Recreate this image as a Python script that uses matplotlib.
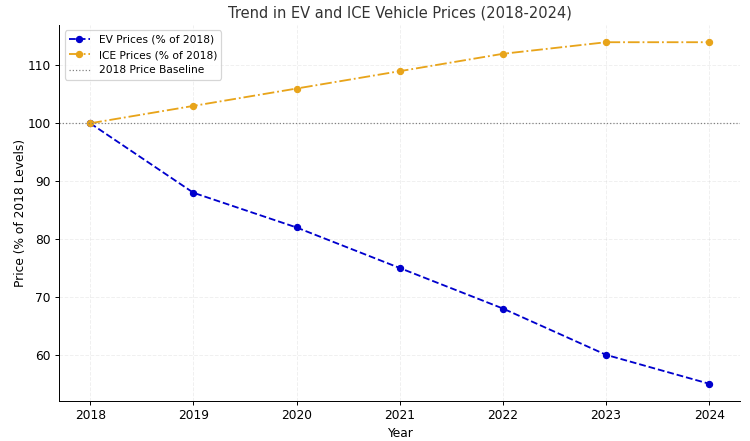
import matplotlib.pyplot as plt

years = [2018, 2019, 2020, 2021, 2022, 2023, 2024]
ev_prices = [100, 88, 82, 75, 68, 60, 55]
ice_prices = [100, 103, 106, 109, 112, 114, 114]
baseline = 100

fig, ax = plt.subplots(figsize=(750 / 88, 441 / 88), dpi=88)

ax.plot(years, ev_prices, marker='o', linestyle='--', color='mediumblue',
        markersize=5, label='EV Prices (% of 2018)')
ax.plot(years, ice_prices, marker='o', linestyle='-.', color='#e8a41a',
        markersize=5, label='ICE Prices (% of 2018)')
ax.axhline(baseline, color='gray', linestyle=':', linewidth=1, label='2018 Price Baseline')

ax.set_title('Trend in EV and ICE Vehicle Prices (2018-2024)', fontsize=12, color='#333333')
ax.set_xlabel('Year')
ax.set_ylabel('Price (% of 2018 Levels)', labelpad=0)
ax.set_xticks(years)
ax.grid(True, linestyle='--', alpha=0.3, color='#cccccc')
ax.spines['top'].set_visible(False)
ax.spines['right'].set_visible(False)
ax.legend(loc='upper left', fontsize=8.7)

plt.subplots_adjust(left=0.079, right=0.987, top=0.943, bottom=0.091)
plt.savefig('out.png')
